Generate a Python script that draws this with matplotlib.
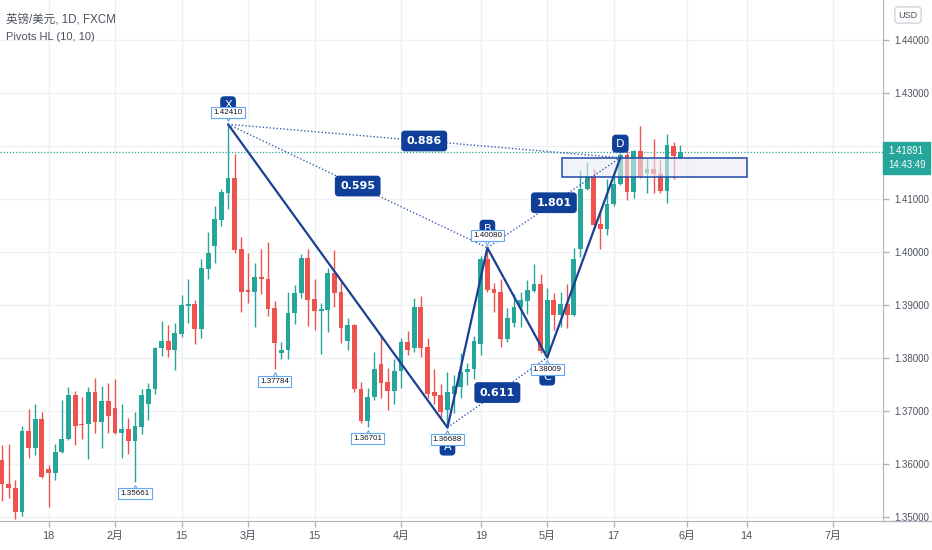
import numpy as np
import matplotlib
matplotlib.use("Agg")
import matplotlib.pyplot as plt
from matplotlib.patches import Rectangle

plt.rcParams['font.family'] = ['DejaVu Sans', 'Noto Sans CJK SC']

# daily GBP/USD candles, Jan 7 .. May 31 2021 (index = trading day)
opens = [1.3608, 1.3563, 1.3555, 1.3510, 1.3662, 1.3631, 1.3685, 1.3590, 1.3584, 1.3622,
         1.3647, 1.3731, 1.3676, 1.3675, 1.3735, 1.3679, 1.3718, 1.3705, 1.3659, 1.3667,
         1.3643, 1.3670, 1.3713, 1.3741, 1.3818, 1.3833, 1.3816, 1.3846, 1.3898, 1.3901,
         1.3855, 1.3968, 1.4011, 1.4060, 1.4112, 1.4139, 1.4006, 1.3928, 1.3924, 1.3952,
         1.3949, 1.3894, 1.3809, 1.3815, 1.3885, 1.3922, 1.3989, 1.3911, 1.3889, 1.3891,
         1.3960, 1.3925, 1.3833, 1.3862, 1.3741, 1.3681, 1.3727, 1.3788, 1.3755, 1.3738,
         1.3775, 1.3830, 1.3818, 1.3896, 1.3820, 1.3735, 1.3731, 1.3701, 1.3733, 1.3746,
         1.3773, 1.3779, 1.3826, 1.3986, 1.3930, 1.3924, 1.3836, 1.3867, 1.3897, 1.3908,
         1.3927, 1.3940, 1.3809, 1.3909, 1.3881, 1.3901, 1.3881, 1.4005, 1.4118, 1.4141,
         1.4053, 1.4043, 1.4090, 1.4128, 1.4183, 1.4114, 1.4191, 1.4150, 1.4157, 1.4147,
         1.4116, 1.4200, 1.4177]
highs = [1.3636, 1.3637, 1.3570, 1.3672, 1.3703, 1.3713, 1.3699, 1.3598, 1.3638, 1.3721,
         1.3746, 1.3738, 1.3726, 1.3746, 1.3762, 1.3747, 1.3753, 1.3760, 1.3713, 1.3687,
         1.3699, 1.3741, 1.3752, 1.3821, 1.3870, 1.3862, 1.3867, 1.3919, 1.3950, 1.3909,
         1.3987, 1.4037, 1.4087, 1.4119, 1.42410, 1.4184, 1.4028, 1.3999, 1.3979, 1.4006,
         1.4018, 1.3908, 1.3830, 1.3925, 1.3938, 1.3996, 1.4005, 1.3949, 1.3903, 1.3970,
         1.4003, 1.3944, 1.3875, 1.3864, 1.3754, 1.3744, 1.3812, 1.3843, 1.3782, 1.3798,
         1.3838, 1.3851, 1.3913, 1.3917, 1.3837, 1.3780, 1.3751, 1.3774, 1.3768, 1.3809,
         1.3790, 1.3841, 1.3992, 1.40080, 1.3941, 1.3949, 1.3895, 1.3920, 1.3925, 1.3948,
         1.3977, 1.3958, 1.3933, 1.3922, 1.3925, 1.3940, 1.4007, 1.4155, 1.4170, 1.4156,
         1.4076, 1.4137, 1.4145, 1.4187, 1.4191, 1.4192, 1.4238, 1.4177, 1.4213, 1.4174,
         1.4222, 1.4208, 1.4202]
lows = [1.3531, 1.3535, 1.3497, 1.3502, 1.3611, 1.3617, 1.3573, 1.3519, 1.3570, 1.3620,
        1.3645, 1.3636, 1.3648, 1.3609, 1.3658, 1.3631, 1.3658, 1.3657, 1.3611, 1.3619,
        1.35661, 1.3657, 1.3683, 1.3733, 1.3804, 1.3801, 1.3777, 1.3840, 1.3867, 1.3826,
        1.3837, 1.3950, 1.3980, 1.4050, 1.4082, 1.3999, 1.3887, 1.3903, 1.3858, 1.3921,
        1.3880, 1.37784, 1.3799, 1.3799, 1.3865, 1.3913, 1.3861, 1.3852, 1.3807, 1.3850,
        1.3896, 1.3829, 1.3815, 1.3736, 1.3677, 1.36701, 1.3721, 1.3724, 1.3702, 1.3714,
        1.3743, 1.3806, 1.3812, 1.3801, 1.3724, 1.3714, 1.3683, 1.36688, 1.3697, 1.3725,
        1.3750, 1.3760, 1.3806, 1.3925, 1.3886, 1.3821, 1.3831, 1.3859, 1.3858, 1.3884,
        1.3924, 1.3809, 1.38009, 1.3853, 1.3858, 1.3856, 1.3880, 1.3991, 1.4117, 1.4045,
        1.4005, 1.4032, 1.4086, 1.4126, 1.4099, 1.4101, 1.4139, 1.4112, 1.4112, 1.4112,
        1.4092, 1.4137, 1.4177]
closes = [1.3562, 1.3554, 1.3510, 1.3662, 1.3631, 1.3685, 1.3575, 1.3584, 1.3623, 1.3648,
          1.3731, 1.3672, 1.3674, 1.3735, 1.3679, 1.3718, 1.3691, 1.3658, 1.3667, 1.3643,
          1.3672, 1.3730, 1.3741, 1.3818, 1.3833, 1.3816, 1.3848, 1.3900, 1.3901, 1.3855,
          1.3969, 1.3999, 1.4062, 1.4113, 1.4139, 1.4004, 1.3924, 1.3924, 1.3952, 1.3949,
          1.3892, 1.3829, 1.3815, 1.3885, 1.3922, 1.3989, 1.3910, 1.3889, 1.3892, 1.3960,
          1.3923, 1.3857, 1.3862, 1.3741, 1.3681, 1.3727, 1.3780, 1.3753, 1.3738, 1.3775,
          1.3830, 1.3815, 1.3896, 1.3819, 1.3733, 1.3729, 1.3699, 1.3735, 1.3748, 1.3774,
          1.3779, 1.3832, 1.3986, 1.3928, 1.3923, 1.3836, 1.3876, 1.3897, 1.3909, 1.3928,
          1.3940, 1.3814, 1.3909, 1.3881, 1.3901, 1.3882, 1.3986, 1.4118, 1.4141, 1.4051,
          1.4043, 1.4090, 1.4128, 1.4183, 1.4114, 1.4191, 1.4141, 1.4157, 1.4147, 1.4115,
          1.4201, 1.4182, 1.41891]

# x axis labels (trading-day index -> label)
tick_idx = [7, 17, 27, 37, 47, 60, 72, 82, 92, 103, 112, 125]
tick_lab = ['18', '2月', '15', '3月', '15', '4月', '19', '5月', '17', '6月', '14', '7月']
price_ticks = [1.35, 1.36, 1.37, 1.38, 1.39, 1.40, 1.41, 1.42, 1.43, 1.44]

# XABCD pattern
pat_names = ['X', 'A', 'B', 'C', 'D']
pat_idx = [34, 67, 73, 82, 93]
pat_price = [1.42410, 1.36688, 1.40080, 1.38009, 1.4178]
ratio_labels = ['0.595', '0.611', '1.801', '0.886']   # XB, AC, BD, XD

# Pivots HL labels
piv_idx = [20, 34, 41, 55, 67, 73, 82]
piv_price = [1.35661, 1.42410, 1.37784, 1.36701, 1.36688, 1.40080, 1.38009]
piv_high = [False, True, False, False, False, True, False]

# PRZ box
box_idx = (84.2, 112)
box_price = (1.41409, 1.41768)

last_price = 1.41891
countdown = '14:43:49'

UP = '#26a69a'
DOWN = '#ef5350'
NAVY = '#0f3f99'
TXT = '#4c525e'
AXC = '#b2b5be'
AXFONT = ['Liberation Sans', 'Noto Sans CJK SC']

opens = np.array(opens)
highs = np.array(highs)
lows = np.array(lows)
closes = np.array(closes)
x = np.arange(len(opens))

fig = plt.figure(figsize=(9.32, 5.5), dpi=100)
ax = fig.add_axes([0, 29 / 550, 883 / 932, 521 / 550])
ax.set_xlim(-0.3, 132.5)
ax.set_ylim(1.34925, 1.44755)

ax.set_xticks(tick_idx)
ax.set_xticklabels(tick_lab)
ax.set_yticks(price_ticks)
ax.set_yticklabels(['%.5f' % p for p in price_ticks])
ax.yaxis.tick_right()
ax.grid(color='#eef0f4', linewidth=1)
ax.set_axisbelow(True)
ax.tick_params(axis='both', colors=AXC, labelcolor=TXT, length=4, width=1)
ax.tick_params(axis='x', pad=3, labelsize=7.8)
ax.tick_params(axis='y', pad=4, labelsize=7)
for lab in ax.get_xticklabels() + ax.get_yticklabels():
    lab.set_family(AXFONT)
for s in ['top', 'left']:
    ax.spines[s].set_visible(False)
for s in ['right', 'bottom']:
    ax.spines[s].set_color(AXC)

# candles
up = closes >= opens
cols = np.where(up, UP, DOWN)
ax.vlines(x, lows, highs, colors=cols, linewidth=1, zorder=2)
bottoms = np.minimum(opens, closes)
heights = np.maximum(np.abs(closes - opens), 0.00015)
ax.bar(x, heights, bottom=bottoms, width=0.72, color=cols, linewidth=0, zorder=3)

# current price line
ax.axhline(last_price, color=UP, linewidth=0.9, linestyle=(0, (1, 1.5)), zorder=1)

# PRZ rectangle
ax.add_patch(Rectangle((box_idx[0], box_price[0]), box_idx[1] - box_idx[0],
                       box_price[1] - box_price[0], facecolor='#e8ebf2', alpha=0.6,
                       edgecolor='none', zorder=4))
ax.add_patch(Rectangle((box_idx[0], box_price[0]), box_idx[1] - box_idx[0],
                       box_price[1] - box_price[0], facecolor='none',
                       edgecolor='#1e4aa8', linewidth=1.1, zorder=6))

# pattern lines
ax.plot(pat_idx, pat_price, color='#1b3f94', linewidth=1.6, zorder=5, solid_capstyle='round')
dotted = [(0, 2), (1, 3), (2, 4), (0, 4)]
for (a, b), lab in zip(dotted, ratio_labels):
    ax.plot([pat_idx[a], pat_idx[b]], [pat_price[a], pat_price[b]], color='#3a5db0',
            linewidth=1, linestyle=(0, (1, 1.5)), zorder=5)
    mx = (pat_idx[a] + pat_idx[b]) / 2
    my = (pat_price[a] + pat_price[b]) / 2
    ax.text(mx, my, lab, ha='center', va='center', color='white', fontsize=8,
            fontweight='bold', zorder=8,
            bbox=dict(boxstyle='round,pad=0.42,rounding_size=0.25', fc=NAVY, ec=NAVY))

# point letters
for i, (nm, xi, pi) in enumerate(zip(pat_names, pat_idx, pat_price)):
    is_top = i in (0, 2, 4)
    off = 14 if nm == 'D' else 19
    ax.annotate(nm, (xi, pi), xytext=(0, off * 0.72 if is_top else -off * 0.72),
                textcoords='offset points', ha='center', va='center', color='white',
                fontsize=8, zorder=8,
                bbox=dict(boxstyle='round,pad=0.3,rounding_size=0.3', fc=NAVY, ec=NAVY))

# pivot labels
for xi, pi, hi in zip(piv_idx, piv_price, piv_high):
    dy = 8.6 if hi else -8.6
    ax.annotate('%.5f' % pi, (xi, pi), xytext=(0, dy), textcoords='offset points',
                ha='center', va='center', color='#131722', fontsize=5.8,
                family='Liberation Sans', zorder=9,
                bbox=dict(boxstyle='square,pad=0.25', fc='white', ec='#64a8f0', lw=0.8))
    ax.plot([xi], [pi + (0.0011 if hi else -0.0011)], marker='v' if hi else '^',
            markersize=4, color='white', markeredgecolor='#64a8f0', markeredgewidth=0.8,
            zorder=8.5)

# right axis price label
ax.annotate('%.5f' % last_price + '\n' + countdown, (1.0, last_price),
            xycoords=('axes fraction', 'data'), xytext=(3.5, -4.5), textcoords='offset points',
            ha='left', va='center', color='white', fontsize=7, linespacing=1.4,
            family='Liberation Sans', annotation_clip=False, zorder=10,
            bbox=dict(boxstyle='square,pad=0.45', fc=UP, ec=UP))

# title
fig.text(6 / 932, 1 - 20 / 550, '英镑/美元, 1D, FXCM', color=TXT, fontsize=8.3, va='center',
         family=AXFONT)
fig.text(6 / 932, 1 - 37 / 550, 'Pivots HL (10, 10)', color=TXT, fontsize=8, va='center',
         family=AXFONT)

# currency box
fig.text(908 / 932, 1 - 15 / 550, 'USD', color=TXT, fontsize=6.5, ha='center', va='center',
         family='Liberation Sans',
         bbox=dict(boxstyle='round,pad=0.4,rounding_size=0.4', fc='white', ec='#d1d4dc'))

# bottom line continues under price scale
fig.add_artist(plt.Line2D([883 / 932, 1], [29 / 550, 29 / 550], color=AXC, linewidth=1))

fig.savefig('out.png', dpi=100)
